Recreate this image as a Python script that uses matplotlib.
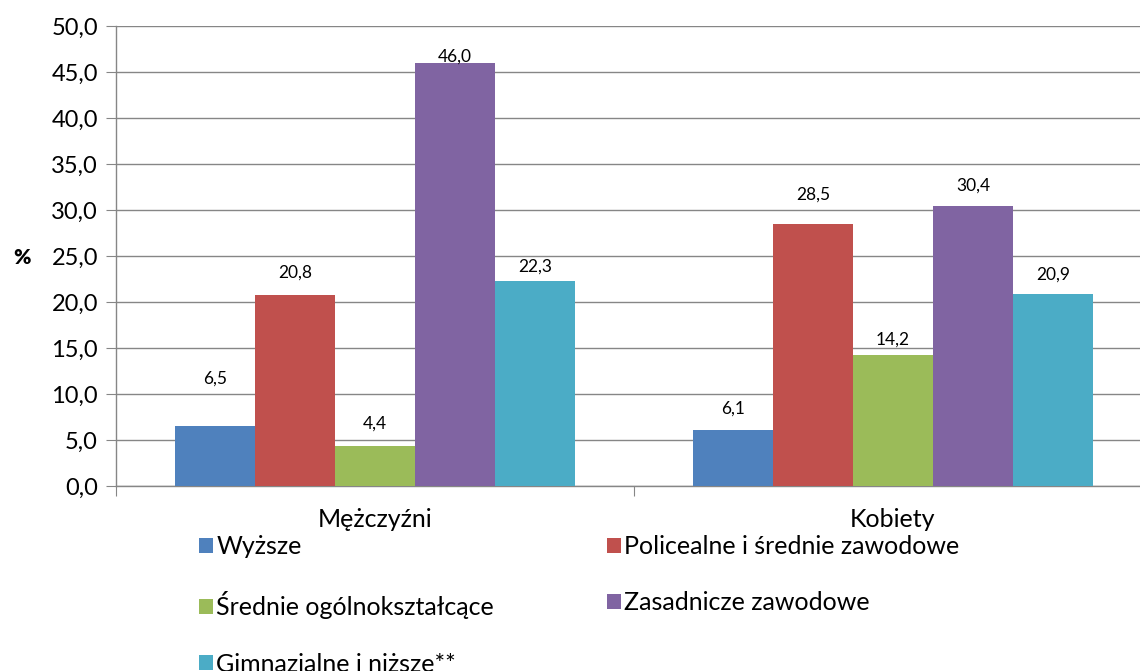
import numpy as np
import matplotlib.pyplot as plt
from matplotlib.ticker import FixedLocator, FuncFormatter

plt.rcParams['font.family'] = ['Lato', 'DejaVu Sans']

groups = ['Mężczyźni', 'Kobiety']
series = ['Wyższe', 'Policealne i średnie zawodowe', 'Średnie ogólnokształcące',
          'Zasadnicze zawodowe', 'Gimnazjalne i niższe**']
values = [
    [6.5, 6.1],
    [20.8, 28.5],
    [4.4, 14.2],
    [46.0, 30.4],
    [22.3, 20.9],
]
colors = ['#4F81BD', '#C0504D', '#9BBB59', '#8064A2', '#4BACC6']
# label offset (centre) above bar top, in points, as placed in the original
label_off = [
    [34, 15],
    [16, 21],
    [16, 11],
    [4.3, 15],
    [10, 13.7],
]

fig = plt.figure(figsize=(11.4, 6.71), dpi=100)
ax = fig.add_axes([116 / 1140, 1 - 486 / 671, 1036 / 1140, 460 / 671])

x = np.arange(len(groups))
w = 0.1545
bars = []
for i, s in enumerate(series):
    pos = x + (i - 2) * w
    bars.append(ax.bar(pos, values[i], w, color=colors[i], label=s, zorder=3))
    for j in range(len(groups)):
        ax.annotate(f'{values[i][j]:.1f}'.replace('.', ','), (pos[j], values[i][j]),
                    xytext=(0, label_off[i][j]), textcoords='offset points',
                    ha='center', va='center', fontsize=12.5, color='#000000')

ax.set_ylim(0, 50)
ax.set_xlim(-0.5, 1.5)
ax.set_yticks(np.arange(0, 50.1, 5))
ax.yaxis.set_major_formatter(FuncFormatter(lambda v, p: f'{v:.1f}'.replace('.', ',')))
ax.grid(axis='y', color='#868686', linewidth=1, zorder=0)
ax.set_axisbelow(True)

ax.xaxis.set_major_locator(FixedLocator([-0.5, 0.5, 1.5]))
ax.xaxis.set_major_formatter(FuncFormatter(lambda v, p: ''))
ax.xaxis.set_minor_locator(FixedLocator(x))
ax.set_xticklabels(groups, minor=True)
ax.tick_params(axis='x', which='minor', length=0, pad=16, labelsize=18)
ax.tick_params(axis='x', which='major', length=7, color='#868686', direction='out')
ax.tick_params(axis='y', length=7, color='#868686', labelsize=17, pad=6)

for sp in ['top', 'right']:
    ax.spines[sp].set_visible(False)
for sp in ['left', 'bottom']:
    ax.spines[sp].set_color('#868686')
    ax.spines[sp].set_linewidth(1)

fig.text(22 / 1140, 1 - 257 / 671, '%', fontsize=15, fontweight='heavy', ha='center', va='center')

# legend filled row by row, like the original
order = [0, 2, 4, 1, 3]
leg = fig.legend([bars[k] for k in order], [series[k] for k in order],
                 loc='upper left', bbox_to_anchor=(199 / 1140, 1 - 535 / 671),
                 ncol=2, frameon=False, fontsize=18, handlelength=0.55, handleheight=0.55,
                 handletextpad=0.15, columnspacing=4.5, labelspacing=1.33, borderaxespad=0,
                 borderpad=0)

fig.savefig('out.png', dpi=100)
